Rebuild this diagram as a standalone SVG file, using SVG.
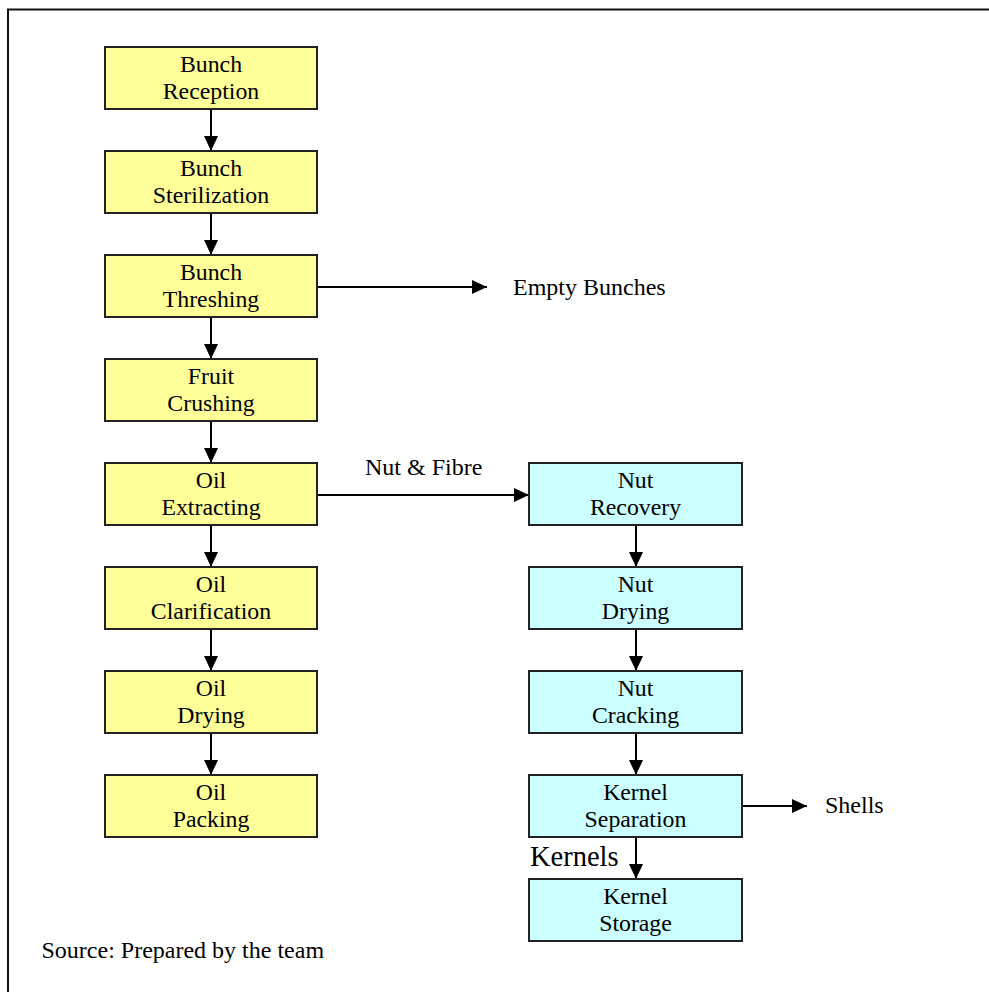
<svg xmlns="http://www.w3.org/2000/svg" width="989" height="992" viewBox="0 0 989 992">
<defs>
<marker id="ah" markerUnits="userSpaceOnUse" markerWidth="15" markerHeight="14" refX="15" refY="7" orient="auto">
<path d="M0,0 L15,7 L0,14 z" fill="#000"/>
</marker>
<style>
.y{fill:#FFFF99;stroke:#222;stroke-width:2}
.c{fill:#CCFFFF;stroke:#222;stroke-width:2}
.t{font-family:"Liberation Serif","Times New Roman",serif;font-size:23.8px;fill:#000;text-anchor:middle}
.l{font-family:"Liberation Serif","Times New Roman",serif;font-size:24px;fill:#000}
.e{stroke:#000;stroke-width:2;fill:none;marker-end:url(#ah)}
</style>
</defs>
<rect width="989" height="992" fill="#fff"/>
<rect x="8" y="9.5" width="1000" height="1000" fill="none" stroke="#111" stroke-width="2"/>
<g id="connectors">
<line class="e" x1="211" y1="109" x2="211" y2="151"/>
<line class="e" x1="211" y1="213" x2="211" y2="255"/>
<line class="e" x1="211" y1="317" x2="211" y2="359"/>
<line class="e" x1="211" y1="421" x2="211" y2="463"/>
<line class="e" x1="211" y1="525" x2="211" y2="567"/>
<line class="e" x1="211" y1="629" x2="211" y2="671"/>
<line class="e" x1="211" y1="733" x2="211" y2="775"/>
<line class="e" x1="317" y1="287" x2="487" y2="287"/>
<line class="e" x1="317" y1="495" x2="529" y2="495"/>
<line class="e" x1="636" y1="525" x2="636" y2="567"/>
<line class="e" x1="636" y1="629" x2="636" y2="671"/>
<line class="e" x1="636" y1="733" x2="636" y2="775"/>
<line class="e" x1="636" y1="837" x2="636" y2="879"/>
<line class="e" x1="742" y1="806" x2="807" y2="806"/>
</g>
<g id="n1"><rect class="y" x="105" y="47" width="212" height="62"/><text class="t" x="211" y="71.7">Bunch</text><text class="t" x="211" y="99.4">Reception</text></g>
<g id="n2"><rect class="y" x="105" y="151" width="212" height="62"/><text class="t" x="211" y="175.7">Bunch</text><text class="t" x="211" y="203.4">Sterilization</text></g>
<g id="n3"><rect class="y" x="105" y="255" width="212" height="62"/><text class="t" x="211" y="279.7">Bunch</text><text class="t" x="211" y="307.4">Threshing</text></g>
<g id="n4"><rect class="y" x="105" y="359" width="212" height="62"/><text class="t" x="211" y="383.7">Fruit</text><text class="t" x="211" y="411.4">Crushing</text></g>
<g id="n5"><rect class="y" x="105" y="463" width="212" height="62"/><text class="t" x="211" y="487.7">Oil</text><text class="t" x="211" y="515.4">Extracting</text></g>
<g id="n6"><rect class="y" x="105" y="567" width="212" height="62"/><text class="t" x="211" y="591.7">Oil</text><text class="t" x="211" y="619.4">Clarification</text></g>
<g id="n7"><rect class="y" x="105" y="671" width="212" height="62"/><text class="t" x="211" y="695.7">Oil</text><text class="t" x="211" y="723.4">Drying</text></g>
<g id="n8"><rect class="y" x="105" y="775" width="212" height="62"/><text class="t" x="211" y="799.7">Oil</text><text class="t" x="211" y="827.4">Packing</text></g>
<g id="c1"><rect class="c" x="529" y="463" width="213" height="62"/><text class="t" x="635.5" y="487.7">Nut</text><text class="t" x="635.5" y="515.4">Recovery</text></g>
<g id="c2"><rect class="c" x="529" y="567" width="213" height="62"/><text class="t" x="635.5" y="591.7">Nut</text><text class="t" x="635.5" y="619.4">Drying</text></g>
<g id="c3"><rect class="c" x="529" y="671" width="213" height="62"/><text class="t" x="635.5" y="695.7">Nut</text><text class="t" x="635.5" y="723.4">Cracking</text></g>
<g id="c4"><rect class="c" x="529" y="775" width="213" height="62"/><text class="t" x="635.5" y="799.7">Kernel</text><text class="t" x="635.5" y="827.4">Separation</text></g>
<g id="c5"><rect class="c" x="529" y="879" width="213" height="62"/><text class="t" x="635.5" y="903.7">Kernel</text><text class="t" x="635.5" y="931.4">Storage</text></g>
<g id="labels">
<text class="l" x="513" y="295">Empty Bunches</text>
<text class="l" x="365" y="475">Nut &amp; Fibre</text>
<text class="l" x="825" y="813">Shells</text>
<text class="l" x="530" y="866" style="font-size:28.5px">Kernels</text>
<text class="l" x="41.5" y="958">Source: Prepared by the team</text>
</g>
</svg>
